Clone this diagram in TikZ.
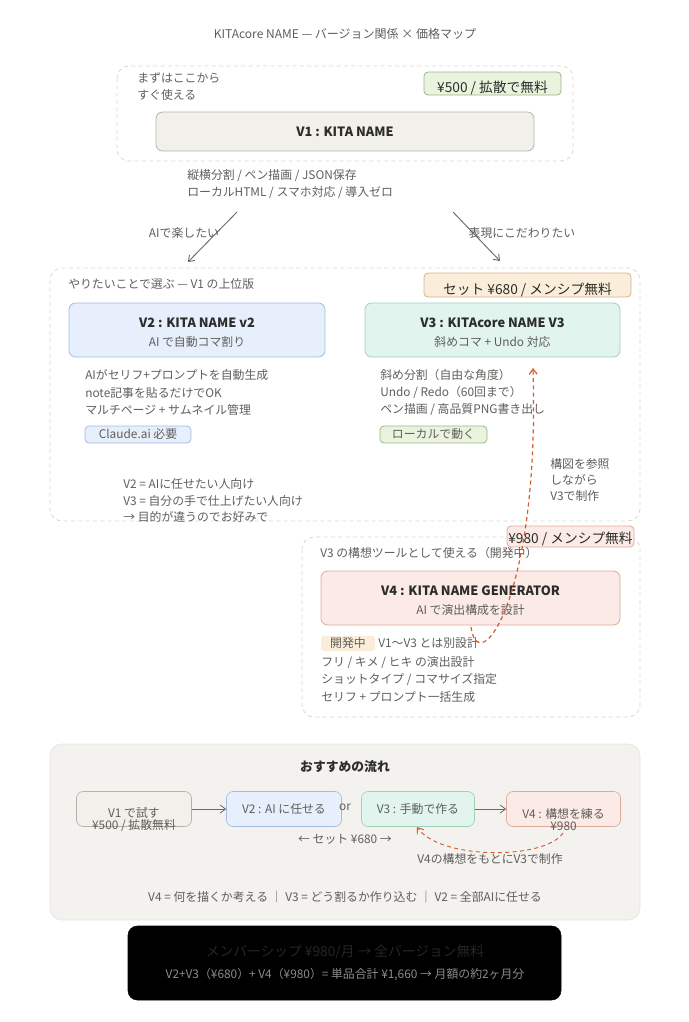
\documentclass[tikz,border=0pt]{standalone}
\usepackage{fontspec}
\setmainfont{Noto Sans CJK JP}
\usetikzlibrary{arrows.meta}
\definecolor{txtgray}{HTML}{5F5E5A}
\definecolor{titleblack}{HTML}{2C2C2A}
\definecolor{dashgray}{HTML}{D9D8D2}
\definecolor{arrowgray}{HTML}{6B6A66}
\definecolor{refred}{HTML}{D85A30}
\definecolor{vonefill}{HTML}{F1F0EB}
\definecolor{voneline}{HTML}{B4B2A9}
\definecolor{vtwofill}{HTML}{E6EFFB}
\definecolor{vtwoline}{HTML}{A3BBDF}
\definecolor{vthreefill}{HTML}{E1F5EE}
\definecolor{vthreeline}{HTML}{A0D0BB}
\definecolor{vfourfill}{HTML}{FBEAE5}
\definecolor{vfourline}{HTML}{DCA99A}
\definecolor{greenfill}{HTML}{EAF3DE}
\definecolor{greenline}{HTML}{97B886}
\definecolor{orangefill}{HTML}{FAEEDA}
\definecolor{orangeline}{HTML}{D6B28A}
\definecolor{panelfill}{HTML}{F3F2EF}
\definecolor{panelline}{HTML}{E7E6E1}
\begin{document}
\begin{tikzpicture}[x=0.75pt,y=-0.75pt,
  every node/.style={font=\fontsize{8.9}{10}\selectfont, text=txtgray, inner sep=0pt},
  area/.style={draw=dashgray, dash pattern=on 3pt off 2.5pt, rounded corners=9pt, line width=0.6pt},
  vbox/.style={draw, rounded corners=5pt, line width=0.6pt, minimum height=40.5pt},
  vtitle/.style={font=\fontsize{9.6}{12}\selectfont\bfseries, text=titleblack},
  tagbox/.style={draw, rounded corners=3pt, line width=0.6pt},
  pricetxt/.style={font=\fontsize{10.3}{12}\selectfont, text=titleblack},
  note/.style={anchor=west, align=left},
  flow/.style={draw, rounded corners=5pt, line width=0.5pt, minimum height=26.25pt},
  goarrow/.style={draw=arrowgray, line width=0.7pt, -{Straight Barb[length=4pt,width=6pt]}},
  refarrow/.style={draw=refred, line width=0.9pt, dash pattern=on 3pt off 2.5pt, -{Straight Barb[length=4pt,width=6pt]}}]
\useasboundingbox (0,0) rectangle (689,1022);

\node[font=\fontsize{9}{11}\selectfont] (title) at (345,34) {KITAcore NAME — バージョン関係 × 価格マップ};

% V1
\draw[area] (117,66) rectangle (573,161);
\node[note, font=\fontsize{8.9}{12.75}\selectfont] (start) at (137,86.5) {まずはここから\\すぐ使える};
\node[tagbox, fill=greenfill, draw=greenline, minimum width=102.75pt, minimum height=17.25pt] (p1) at (492.5,83.5) {};
\node[pricetxt] (p1t) at (492.5,88) {¥500 / 拡散で無料};
\node[vbox, fill=vonefill, draw=voneline, minimum width=283.5pt, minimum height=29.25pt, vtitle] (v1) at (345,131.5) {V1 : KITA NAME};
\node[note, font=\fontsize{8.9}{12.75}\selectfont] (v1f) at (187,184.5) {縦横分割 / ペン描画 / JSON保存\\ローカルHTML / スマホ対応 / 導入ゼロ};

\coordinate (l1) at (237,212);
\coordinate (l2) at (188,262);
\coordinate (r1) at (453,212);
\coordinate (r2) at (500,261);
\draw[goarrow] (l1) -- (l2);
\draw[goarrow] (r1) -- (r2);
\node (ai) at (184,233) {AIで楽したい};
\node (hyogen) at (522,233) {表現にこだわりたい};

% V2 / V3
\draw[area] (50,268) rectangle (640,521);
\node[note] (erabu) at (68,284) {やりたいことで選ぶ — V1 の上位版};
\node[tagbox, fill=orangefill, draw=orangeline, minimum width=155.25pt, minimum height=18pt] (p2) at (527.5,285) {};
\node[pricetxt] (p2t) at (527.5,289.5) {セット ¥680 / メンシプ無料};

\node[vbox, fill=vtwofill, draw=vtwoline, minimum width=192pt] (v2) at (197,330) {};
\node[vtitle] (v2t) at (197,323) {V2 : KITA NAME v2};
\node (v2s) at (197,342) {AI で自動コマ割り};
\node[vbox, fill=vthreefill, draw=vthreeline, minimum width=191.25pt] (v3) at (492.5,330) {};
\node[vtitle] (v3t) at (492.5,323) {V3 : KITAcore NAME V3};
\node (v3s) at (492.5,342) {斜めコマ + Undo 対応};

\node[note, font=\fontsize{8.9}{13.1}\selectfont] (v2f) at (85,392.5) {AIがセリフ+プロンプトを自動生成\\note記事を貼るだけでOK\\マルチページ + サムネイル管理};
\node[tagbox, fill=vtwofill, draw=vtwoline, minimum width=79.5pt, minimum height=12.75pt] (claude) at (138,434.5) {Claude.ai 必要};
\node[note, font=\fontsize{8.9}{13.1}\selectfont] (v3f) at (380,392.5) {斜め分割（自由な角度）\\Undo / Redo（60回まで）\\ペン描画 / 高品質PNG書き出し};
\node[tagbox, fill=greenfill, draw=greenline, minimum width=80.25pt, minimum height=12.75pt] (local) at (433.5,434.5) {ローカルで動く};
\node[note, font=\fontsize{8.9}{12.4}\selectfont] (muke) at (123,500.5) {V2 = AIに任せたい人向け\\V3 = 自分の手で仕上げたい人向け\\→ 目的が違うのでお好みで};
\node[note, font=\fontsize{8.9}{12}\selectfont] (kozu) at (550,480) {構図を参照\\しながら\\V3で制作};

% V4
\draw[area] (302,537) rectangle (640,717);
\node[tagbox, fill=vfourfill, draw=vfourline, minimum width=95.25pt, minimum height=15.75pt] (p3) at (570.5,536.5) {};
\node[pricetxt] (p3t) at (570.5,539) {¥980 / メンシプ無料};
\node[note] (koso) at (320,553) {V3 の構想ツールとして使える（開発中）};
\node[vbox, fill=vfourfill, draw=vfourline, minimum width=224.25pt] (v4) at (470.5,598) {};
\node[vtitle] (v4t) at (470.5,591) {V4 : KITA NAME GENERATOR};
\node (v4s) at (470.5,610) {AI で演出構成を設計};
\node[fill=orangefill, rounded corners=2pt, minimum width=40.5pt, minimum height=11.25pt] (dev) at (348,643.5) {開発中};
\node[note] (betsu) at (378,643.5) {V1〜V3 とは別設計};
\node[note, font=\fontsize{8.9}{13.1}\selectfont] (v4f) at (321,679.5) {フリ / キメ / ヒキ の演出設計\\ショットタイプ / コマサイズ指定\\セリフ + プロンプト一括生成};

\coordinate (v4out) at (471,627);
\coordinate (v3in) at (533,368);
\draw[refarrow] (v4out) .. controls (478,680) and (540,600) .. (v3in);

% flow
\draw[fill=panelfill, draw=panelline, rounded corners=9pt, line width=0.6pt] (50,744) rectangle (640,920);
\node[vtitle] (flowt) at (345,767) {おすすめの流れ};
\node[flow, fill=vonefill, draw=voneline, minimum width=86.25pt] (f1) at (134,809) {};
\node[align=center, font=\fontsize{8.9}{9}\selectfont] (f1t) at (134,820) {V1 で試す\\¥500 / 拡散無料};
\node[flow, fill=vtwofill, draw=vtwoline, minimum width=86.25pt] (f2) at (284,809) {V2 : AI に任せる};
\node (or) at (345,807) {or};
\node[flow, fill=vthreefill, draw=vthreeline, minimum width=84.75pt] (f3) at (418,809) {V3 : 手動で作る};
\node[flow, fill=vfourfill, draw=vfourline, minimum width=85.5pt] (f4) at (563.5,809) {};
\node[align=center, font=\fontsize{8.9}{9}\selectfont] (f4t) at (563.5,820) {V4 : 構想を練る\\¥980};
\draw[goarrow, line width=0.6pt] (f1) -- (f2);
\draw[goarrow, line width=0.6pt] (f3) -- (f4);
\node (set) at (345,839) {← セット ¥680 →};
\coordinate (f4out) at (563,833);
\coordinate (f3in) at (417,827);
\draw[refarrow, line width=0.7pt] (f4out) .. controls (545,860) and (440,860) .. (f3in);
\node (motoni) at (490,859) {V4の構想をもとにV3で制作};
\node (summary) at (345,897) {V4 = 何を描くか考える ｜ V3 = どう割るか作り込む ｜ V2 = 全部AIに任せる};

% membership
\draw[fill=black, rounded corners=7pt] (128,926) rectangle (561,1000);
\node[font=\fontsize{10.3}{12}\selectfont, text=black!85!white] (mem) at (345,952) {メンバーシップ ¥980/月 → 全バージョン無料};
\node[text=black!45!white] (memsub) at (345,975) {V2+V3（¥680）+ V4（¥980）= 単品合計 ¥1,660 → 月額の約2ヶ月分};
\end{tikzpicture}
\end{document}
